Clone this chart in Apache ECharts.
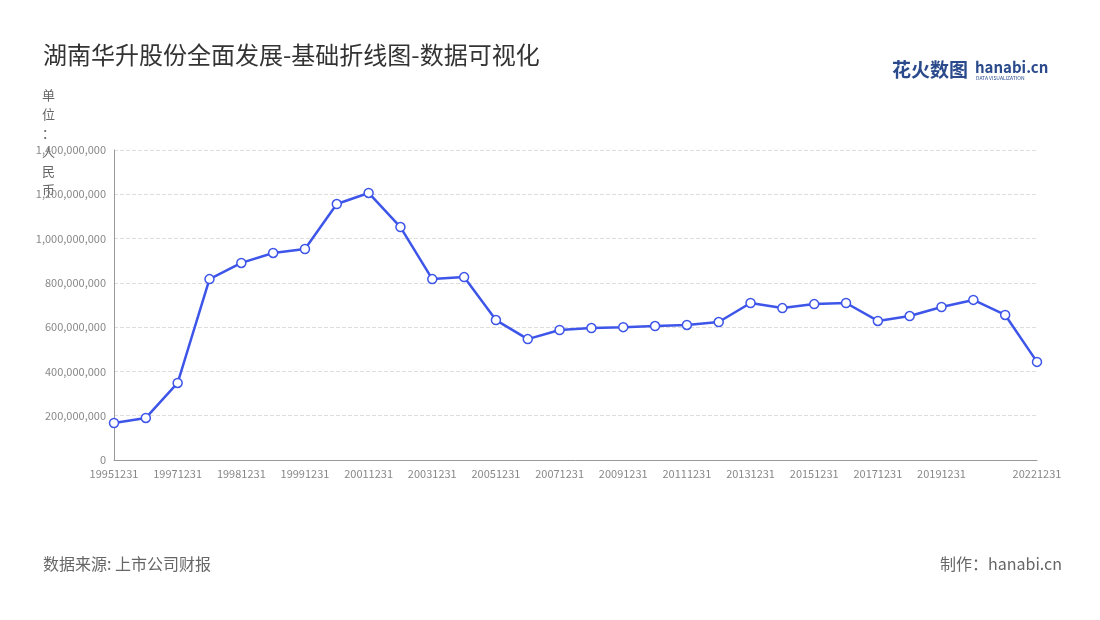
<!DOCTYPE html>
<html>
<head>
<meta charset="utf-8">
<script src="https://cdn.jsdelivr.net/npm/echarts@6/dist/echarts.min.js"></script>
<style>
    html, body { margin: 0; padding: 0; background: #fff; }
    #main { width: 1100px; height: 620px; }
</style>
</head>
<body>
<div id="main"></div>
<script>
    var categories = ['19951231', '19961231', '19971231', '19980630', '19981231', '19990630', '19991231',
      '20001231', '20011231', '20021231', '20031231', '20041231', '20051231', '20061231', '20071231',
      '20081231', '20091231', '20101231', '20111231', '20121231', '20131231', '20141231', '20151231',
      '20161231', '20171231', '20181231', '20191231', '20201231', '20211231', '20221231'];
    var values = [167e6, 190e6, 348e6, 817e6, 890e6, 935e6, 953e6, 1156e6, 1206e6, 1052e6, 817e6, 826e6,
      632e6, 546e6, 587e6, 596e6, 600e6, 605e6, 610e6, 623e6, 709e6, 686e6, 704e6, 709e6, 628e6, 650e6,
      691e6, 723e6, 655e6, 443e6];

    var myChart = echarts.init(document.getElementById('main'));
    var font = '"Noto Sans CJK SC", "Noto Sans", sans-serif';

    myChart.setOption({
      textStyle: { fontFamily: font },
      title: {
        text: '湖南华升股份全面发展-基础折线图-数据可视化',
        left: 38, top: 38,
        textStyle: { fontSize: 24, fontWeight: 'normal', color: '#333', fontFamily: font }
      },
      graphic: [
        { type: 'text', left: 892, top: 60, style: { text: '花火数图', font: 'bold 19px ' + font, fill: '#2a4a8c' } },
        { type: 'text', left: 975, top: 60, style: { text: 'hanabi.cn', font: 'bold 15px ' + font, fill: '#2a4a8c' } },
        { type: 'text', left: 976, top: 76, style: { text: 'DATA VISUALIZATION', font: '5px ' + font, fill: '#2a4a8c' } },
        { type: 'text', left: 43, top: 556, style: { text: '数据来源: 上市公司财报', font: '16px ' + font, fill: '#666' } },
        { type: 'text', right: 38, top: 556, style: { text: '制作：hanabi.cn', font: '16px ' + font, fill: '#666' } },
        { type: 'text', left: 42, top: 86, style: { text: '单\n位\n：\n人\n民\n币', font: '13px ' + font, fill: '#666', lineHeight: 19 } }
      ],
      grid: { left: 114, right: 63, top: 150, bottom: 160 },
      xAxis: {
        type: 'category',
        data: categories,
        boundaryGap: false,
        axisLine: { lineStyle: { color: '#999' } },
        axisTick: { show: false },
        axisLabel: {
          color: '#888', fontSize: 11,
          interval: function (i) { return (i % 2 === 0 && i < 27) || i === 29; }
        }
      },
      yAxis: {
        type: 'value',
        min: 0, max: 1400000000, interval: 200000000,
        axisLine: { show: true, lineStyle: { color: '#999' } },
        axisLabel: {
          color: '#888', fontSize: 11,
          formatter: function (v) { return v.toLocaleString('en-US'); }
        },
        splitLine: { lineStyle: { color: '#ddd', type: 'dashed' } }
      },
      series: [{
        type: 'line',
        data: values,
        symbol: 'circle',
        symbolSize: 9,
        lineStyle: { color: '#3d55e8', width: 2.5 },
        itemStyle: { color: '#fff', borderColor: '#3d55e8', borderWidth: 1.5 }
      }]
    });
</script>
</body>
</html>
